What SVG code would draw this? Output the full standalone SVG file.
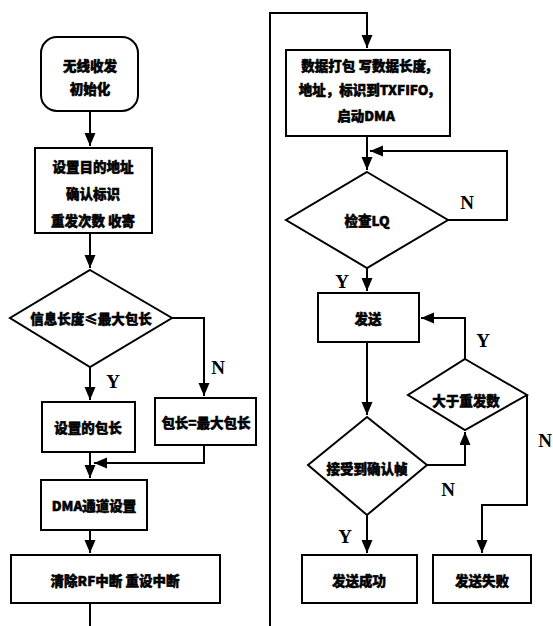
<svg xmlns="http://www.w3.org/2000/svg" width="553" height="626" viewBox="0 0 553 626">
<style>
.n{fill:#fff;stroke:#000;stroke-width:2}
.t{font-family:"Noto Sans CJK SC","Liberation Serif",serif;font-weight:900;font-size:13.5px;text-anchor:middle;dominant-baseline:central;fill:#000;stroke:#000;stroke-width:0.5}
.l{font-family:"Liberation Serif",serif;font-weight:bold;font-size:19px;text-anchor:middle;dominant-baseline:central;fill:#000}
.c{fill:none;stroke:#000;stroke-width:2}
</style>
<defs>
<marker id="a" markerUnits="userSpaceOnUse" markerWidth="16" markerHeight="12" refX="13" refY="5.5" orient="auto">
<path d="M0,0 L13,5.5 L0,11 Z" fill="#000"/>
</marker>
</defs>
<rect width="553" height="626" fill="#fff"/>
<g id="connectors">
<path class="c" d="M90,111 V146" marker-end="url(#a)"/>
<path class="c" d="M90,233 V268" marker-end="url(#a)"/>
<path class="c" d="M172,318 H204 V396" marker-end="url(#a)"/>
<path class="c" d="M90,367 V400" marker-end="url(#a)"/>
<path class="c" d="M90,452 V478" marker-end="url(#a)"/>
<path class="c" d="M204,445 V463 H94" marker-end="url(#a)"/>
<path class="c" d="M90,530 V553" marker-end="url(#a)"/>
<path class="c" d="M90,603 V626"/>
<path class="c" d="M270,626 V13 H367 V48" marker-end="url(#a)"/>
<path class="c" d="M367,136 V170" marker-end="url(#a)"/>
<path class="c" d="M448,220 H507 V151 H370" marker-end="url(#a)"/>
<path class="c" d="M367,268 V291" marker-end="url(#a)"/>
<path class="c" d="M367,342 V415" marker-end="url(#a)"/>
<path class="c" d="M465,359 V318 H421" marker-end="url(#a)"/>
<path class="c" d="M427,465 H465 V432" marker-end="url(#a)"/>
<path class="c" d="M527,395 V505 H482 V553" marker-end="url(#a)"/>
<path class="c" d="M367,515 V553" marker-end="url(#a)"/>
</g>
<g id="n1"><rect class="n" x="41" y="37" width="97" height="74" rx="16"/><text class="t" x="90" y="65">无线收发</text><text class="t" x="90" y="88">初始化</text></g>
<g id="n2"><rect class="n" x="35" y="148" width="117" height="85"/><text class="t" x="93" y="166">设置目的地址</text><text class="t" x="93" y="193">确认标识</text><text class="t" x="93" y="220">重发次数 收寄</text></g>
<g id="n3"><polygon class="n" points="90,270 172,318 90,367 10,318"/><text class="t" x="91" y="318">信息长度≤最大包长</text></g>
<g id="n4"><rect class="n" x="42" y="402" width="93" height="50"/><text class="t" x="88" y="427">设置的包长</text></g>
<g id="n5"><rect class="n" x="155" y="398" width="101" height="47"/><text class="t" x="206" y="422">包长=最大包长</text></g>
<g id="n6"><rect class="n" x="41" y="480" width="106" height="50"/><text class="t" x="94" y="505">DMA通道设置</text></g>
<g id="n7"><rect class="n" x="11" y="555" width="209" height="48"/><text class="t" x="115" y="580">清除RF中断 重设中断</text></g>
<g id="n8"><rect class="n" x="286" y="50" width="164" height="86"/><text class="t" x="366" y="65">数据打包 写数据长度,</text><text class="t" x="366" y="89">地址，标识到TXFIFO,</text><text class="t" x="366" y="115">启动DMA</text></g>
<g id="n9"><polygon class="n" points="367,172 448,220 367,268 286,220"/><text class="t" x="367" y="220">检查LQ</text></g>
<g id="n10"><rect class="n" x="318" y="293" width="101" height="49"/><text class="t" x="368" y="318">发送</text></g>
<g id="n11"><polygon class="n" points="465,359 527,395 465,430 408,395"/><text class="t" x="466" y="400">大于重发数</text></g>
<g id="n12"><polygon class="n" points="367,417 427,465 367,515 308,465"/><text class="t" x="367" y="468">接受到确认帧</text></g>
<g id="n13"><rect class="n" x="302" y="555" width="115" height="48"/><text class="t" x="359" y="580">发送成功</text></g>
<g id="n14"><rect class="n" x="433" y="555" width="98" height="48"/><text class="t" x="482" y="580">发送失败</text></g>
<g id="labels">
<text class="l" x="218" y="367">N</text>
<text class="l" x="113" y="381">Y</text>
<text class="l" x="467" y="202">N</text>
<text class="l" x="342" y="281">Y</text>
<text class="l" x="483" y="340">Y</text>
<text class="l" x="545" y="440">N</text>
<text class="l" x="448" y="489">N</text>
<text class="l" x="345" y="536">Y</text>
</g>
</svg>
